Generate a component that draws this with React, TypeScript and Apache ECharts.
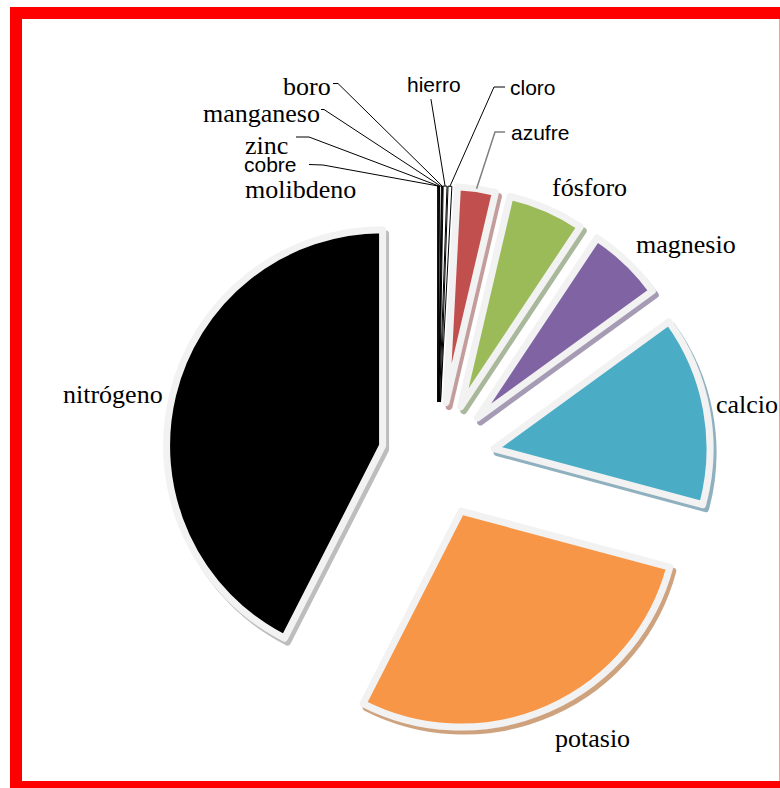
import React, { useEffect, useRef } from 'react';
import * as echarts from 'echarts';

// Macro- and micronutrients, typical concentration in dry plant tissue (ppm)
const NUTRIENTS = [
  'molibdeno', 'cobre', 'zinc', 'manganeso', 'boro', 'hierro', 'cloro',
  'azufre', 'fósforo', 'magnesio', 'calcio', 'potasio', 'nitrógeno',
];
const PPM = [0.1, 6, 20, 50, 20, 100, 100, 1000, 2000, 2000, 5000, 10000, 15000];

const TRACE = new Set(['molibdeno', 'cobre', 'zinc', 'manganeso', 'boro', 'hierro', 'cloro']);

const FILL: Record<string, string> = {
  azufre: '#C0504D',
  'fósforo': '#9BBB59',
  magnesio: '#8064A2',
  calcio: '#4BACC6',
  potasio: '#F79646',
  'nitrógeno': '#000000',
};
const SHADOW: Record<string, string> = {
  azufre: '#c49c9c',
  'fósforo': '#a9b89b',
  magnesio: '#a69bb4',
  calcio: '#8fb1bf',
  potasio: '#cfa27e',
  'nitrógeno': '#bdbdbd',
};

const SERIF = '"Liberation Serif", "Times New Roman", serif';
const SANS = '"Liberation Sans", Arial, sans-serif';
const SANS_LABELS = new Set(['hierro', 'cloro', 'azufre', 'cobre']);

const CENTER: [number, number] = [438, 459];
const RADIUS = 216;
const OFFSET = 57;

type LabelPlace = {
  x: number;
  y: number;
  elbow?: [number, number];
  end?: [number, number];
  lineColor?: string;
};

// label anchor (left edge, vertical middle) and leader line bend/end
const LABEL_POS: Record<string, LabelPlace> = {
  molibdeno: { x: 245, y: 189 },
  cobre: { x: 244, y: 164.5, elbow: [323, 165], end: [309, 164.5] },
  zinc: { x: 245, y: 145, elbow: [309, 137], end: [296, 137] },
  manganeso: { x: 203, y: 113, elbow: [324, 109.5], end: [321, 109.5] },
  boro: { x: 283, y: 86, elbow: [338, 83.5], end: [333, 83.5] },
  hierro: { x: 407, y: 84.5, elbow: [431, 99.5], end: [431, 99] },
  cloro: { x: 510, y: 87, elbow: [494, 87], end: [505, 87] },
  azufre: { x: 511, y: 132.5, elbow: [495, 132], end: [505, 132], lineColor: '#7f7f7f' },
  'fósforo': { x: 552, y: 187 },
  magnesio: { x: 636, y: 244 },
  calcio: { x: 716, y: 404.5 },
  'nitrógeno': { x: 63, y: 394 },
  potasio: { x: 555, y: 738 },
};

const TOTAL = PPM.reduce((a, b) => a + b, 0);

// point on the outer arc of an exploded slice, at its mid angle
function outerPoint(index: number): [number, number] {
  let before = 0;
  for (let j = 0; j < index; j++) before += PPM[j];
  const mid = ((before + PPM[index] / 2) / TOTAL) * Math.PI * 2;
  const d = OFFSET + RADIUS;
  return [CENTER[0] + d * Math.sin(mid), CENTER[1] - d * Math.cos(mid)];
}

export default function App() {
  const ref = useRef<HTMLDivElement>(null);

  useEffect(() => {
    if (!ref.current) return;
    const chart = echarts.init(ref.current, null, { renderer: 'svg' });

    // exploded slices
    const sliceData = NUTRIENTS.map((name, i) => {
      const trace = TRACE.has(name);
      const itemStyle = trace
        ? {
            color: '#ffffff',
            borderColor: '#000000',
            borderWidth: 1,
            shadowBlur: 0,
            shadowOffsetX: 0,
            shadowOffsetY: 0,
            shadowColor: 'rgba(0,0,0,0)',
          }
        : {
            color: FILL[name],
            borderColor: '#f2f2f2',
            borderWidth: 7,
            borderJoin: 'round',
            shadowBlur: 1.5,
            shadowOffsetX: 3,
            shadowOffsetY: 4,
            shadowColor: SHADOW[name],
          };
      return {
        name,
        value: PPM[i],
        selected: true,
        itemStyle,
        select: { itemStyle },
      };
    });

    // same slices again, invisible, carrying the names and leader lines
    const labelData = NUTRIENTS.map((name, i) => {
      const pos = LABEL_POS[name];
      const sans = SANS_LABELS.has(name);
      return {
        name,
        value: PPM[i],
        label: {
          fontFamily: sans ? SANS : SERIF,
          fontSize: sans ? 21 : 26,
        },
        labelLine: {
          show: !!pos.elbow,
          lineStyle: {
            color: pos.lineColor ?? '#000000',
            width: pos.lineColor ? 1.5 : 1,
          },
        },
      };
    });

    chart.setOption({
      animation: false,
      backgroundColor: '#ffffff',
      graphic: [
        {
          type: 'rect',
          z: 100,
          shape: { x: 16, y: 13, width: 769.6, height: 774 },
          style: { fill: 'none', stroke: '#ff0000', lineWidth: 12 },
        },
      ],
      series: [
        {
          type: 'pie',
          center: CENTER,
          radius: RADIUS,
          startAngle: 90,
          clockwise: true,
          selectedMode: 'multiple',
          selectedOffset: OFFSET,
          silent: true,
          emphasis: { disabled: true },
          label: { show: false },
          labelLine: { show: false },
          data: sliceData,
        },
        {
          type: 'pie',
          center: CENTER,
          radius: RADIUS,
          startAngle: 90,
          clockwise: true,
          silent: true,
          z: 3,
          avoidLabelOverlap: false,
          emphasis: { disabled: true },
          itemStyle: { color: 'rgba(0,0,0,0)', borderWidth: 0 },
          label: {
            show: true,
            position: 'outside',
            formatter: '{b}',
            color: '#000000',
          },
          labelLayout: (params: any) => {
            const name = NUTRIENTS[params.dataIndex];
            const pos = LABEL_POS[name];
            const out: any = {
              x: pos.x,
              y: pos.y,
              align: 'left',
              verticalAlign: 'middle',
            };
            if (pos.elbow && pos.end) {
              out.labelLinePoints = [outerPoint(params.dataIndex), pos.elbow, pos.end];
            }
            return out;
          },
          data: labelData,
        },
      ],
    });

    return () => chart.dispose();
  }, []);

  return (
    <div
      ref={ref}
      style={{ position: 'fixed', left: 0, top: 0, width: 780, height: 788 }}
    />
  );
}
